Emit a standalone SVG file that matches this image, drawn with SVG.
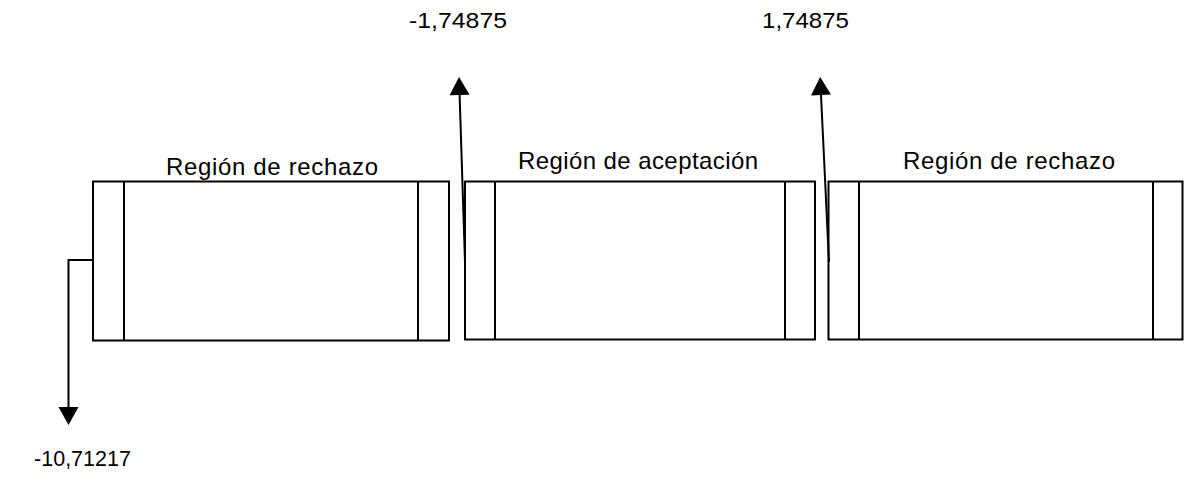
<svg xmlns="http://www.w3.org/2000/svg" width="1189" height="489" viewBox="0 0 1189 489">
<style>
.box{fill:#fff;stroke:#000;stroke-width:2}
.div{stroke:#000;stroke-width:2}
.lbl{font-family:"Liberation Sans",Arial,sans-serif;font-size:24px;fill:#000}
.num{font-family:"Liberation Sans",Arial,sans-serif;font-size:22px;fill:#000}
.con{fill:none;stroke:#000;stroke-width:2}
</style>
<defs>
<marker id="ah" markerUnits="userSpaceOnUse" markerWidth="18" markerHeight="20" refX="0" refY="10" orient="auto" overflow="visible">
<path d="M0,0 L18,10 L0,20 Z" fill="#000"/>
</marker>
</defs>
<rect width="1189" height="489" fill="#fff"/>
<g id="region1">
<rect class="box" x="93" y="181.5" width="356" height="159"/>
<line class="div" x1="124" y1="181.5" x2="124" y2="340.5"/>
<line class="div" x1="418" y1="181.5" x2="418" y2="340.5"/>
<text class="lbl" x="166" y="175" textLength="212" lengthAdjust="spacing">Región de rechazo</text>
</g>
<g id="region2">
<rect class="box" x="465" y="181.5" width="350" height="158"/>
<line class="div" x1="495" y1="181.5" x2="495" y2="339.5"/>
<line class="div" x1="785" y1="181.5" x2="785" y2="339.5"/>
<text class="lbl" x="518" y="169" textLength="240" lengthAdjust="spacing">Región de aceptación</text>
</g>
<g id="region3">
<rect class="box" x="828.5" y="181.5" width="354" height="158"/>
<line class="div" x1="859" y1="181.5" x2="859" y2="339.5"/>
<line class="div" x1="1153" y1="181.5" x2="1153" y2="339.5"/>
<text class="lbl" x="903" y="169" textLength="212" lengthAdjust="spacing">Región de rechazo</text>
</g>
<g id="values">
<text class="num" x="409" y="28" textLength="98" lengthAdjust="spacingAndGlyphs">-1,74875</text>
<text class="num" x="762" y="28" textLength="87" lengthAdjust="spacingAndGlyphs">1,74875</text>
<text class="num" x="34" y="466" textLength="97" lengthAdjust="spacingAndGlyphs">-10,71217</text>
</g>
<g id="connectors">
<line class="con" x1="465" y1="262" x2="459.6" y2="95" marker-end="url(#ah)"/>
<line class="con" x1="829" y1="262" x2="821" y2="95" marker-end="url(#ah)"/>
<path class="con" d="M93,260 H68.5 V407" marker-end="url(#ah)"/>
</g>
</svg>
